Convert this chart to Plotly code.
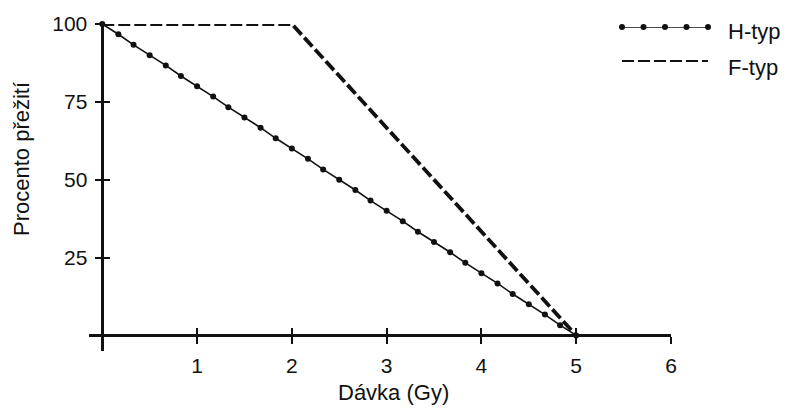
import plotly.graph_objects as go

# ---- data ----
h_x = [0, 0.17, 0.33, 0.5, 0.67, 0.83, 1, 1.17, 1.33, 1.5, 1.67, 1.83, 2, 2.17, 2.33, 2.5,
       2.67, 2.83, 3, 3.17, 3.33, 3.5, 3.67, 3.83, 4, 4.17, 4.33, 4.5, 4.67, 4.83, 5]
h_y = [100, 96.7, 93.3, 90, 86.7, 83.3, 80, 76.7, 73.3, 70, 66.7, 63.3, 60, 56.7, 53.3, 50,
       46.7, 43.3, 40, 36.7, 33.3, 30, 26.7, 23.3, 20, 16.7, 13.3, 10, 6.7, 3.3, 0]
f_x = [0, 2, 5]
f_y = [100, 100, 0]

x_ticks = [1, 2, 3, 4, 5, 6]
y_ticks = [25, 50, 75, 100]
series_names = ["H-typ", "F-typ"]
x_title = "Dávka (Gy)"
y_title = "Procento přežití"

# legend sample positions (in legend-axis units)
leg_h_x = [0, 0.25, 0.5, 0.75, 1]
leg_h_y = [1, 1, 1, 1, 1]
leg_f_x = [0, 1]
leg_f_y = [0, 0]

# ---- layout constants ----
W, H = 790, 409
ML, MR, MT, MB = 89, 0, 24, 58
x_range = [-0.14, 6.0]
y_range = [-5, 100]
plot_w = W - ML - MR
plot_h = H - MT - MB
x_dom_end = (671 - ML) / plot_w

def px_to_paper_x(px):
    return (px - ML) / plot_w

def py_to_paper_y(py):
    return (H - MB - py) / plot_h

x_axis_pos = (0 - y_range[0]) / (y_range[1] - y_range[0])
y_axis_pos = (0 - x_range[0]) / (x_range[1] - x_range[0]) * x_dom_end

INK = "#111111"
FONT = "Liberation Sans, Arial, sans-serif"
FS = 21

fig = go.Figure()

fig.add_trace(go.Scatter(
    x=h_x, y=h_y, mode="lines+markers", name=series_names[0],
    line=dict(color=INK, width=1.6),
    marker=dict(color=INK, size=6),
    cliponaxis=False, showlegend=False))
fig.add_trace(go.Scatter(
    x=f_x, y=f_y, mode="lines", name=series_names[1],
    line=dict(color=INK, width=3.8, dash="12px,4px"),
    cliponaxis=False, showlegend=False))

# empty trace to realise overlay tick axes
fig.add_trace(go.Scatter(x=[None], y=[None], xaxis="x2", yaxis="y2",
                         showlegend=False, hoverinfo="skip"))

# legend samples
fig.add_trace(go.Scatter(x=leg_h_x, y=leg_h_y, xaxis="x3", yaxis="y3",
                         mode="lines+markers", line=dict(color=INK, width=1.6),
                         marker=dict(color=INK, size=6), cliponaxis=False,
                         showlegend=False, hoverinfo="skip"))
fig.add_trace(go.Scatter(x=leg_f_x, y=leg_f_y, xaxis="x3", yaxis="y3",
                         mode="lines", line=dict(color=INK, width=3.8, dash="12px,4px"),
                         cliponaxis=False, showlegend=False, hoverinfo="skip"))

common = dict(showgrid=False, zeroline=False, tickcolor=INK, tickwidth=2,
              ticklen=7, fixedrange=True, automargin=False)

fig.update_layout(
    template="none",
    width=W, height=H,
    margin=dict(l=ML, r=MR, t=MT, b=MB, pad=0),
    paper_bgcolor="white", plot_bgcolor="white",
    font=dict(family=FONT, size=FS, color=INK),
    showlegend=False,
    xaxis=dict(range=x_range, domain=[0, x_dom_end], anchor="free", position=x_axis_pos,
               showline=True, linecolor=INK, linewidth=2.5,
               ticks="outside", tickvals=x_ticks, ticktext=[str(v) for v in x_ticks],
               ticklabelstandoff=4, tickfont=dict(size=FS), **common),
    yaxis=dict(range=y_range, domain=[0, 1], anchor="free", position=y_axis_pos,
               showline=True, linecolor=INK, linewidth=2.5,
               ticks="outside", tickvals=y_ticks, ticktext=[str(v) for v in y_ticks],
               ticklabelstandoff=3, tickfont=dict(size=FS), **common),
    xaxis2=dict(range=x_range, domain=[0, x_dom_end], overlaying="x", anchor="free",
                position=x_axis_pos, showline=False, ticks="inside", tickvals=x_ticks,
                showticklabels=False, **common),
    yaxis2=dict(range=y_range, domain=[0, 1], overlaying="y", anchor="free",
                position=y_axis_pos, showline=False, ticks="inside", tickvals=y_ticks,
                showticklabels=False, **common),
    xaxis3=dict(range=[0, 1], domain=[px_to_paper_x(622), px_to_paper_x(708)], anchor="y3",
                visible=False, fixedrange=True),
    yaxis3=dict(range=[0, 1], domain=[py_to_paper_y(62), py_to_paper_y(27)], anchor="x3",
                visible=False, fixedrange=True),
)

annotations = [
    dict(text=x_title, xref="paper", yref="paper", x=px_to_paper_x(393), y=py_to_paper_y(392),
         xanchor="center", yanchor="middle", showarrow=False, font=dict(size=22)),
    dict(text=y_title, xref="paper", yref="paper", x=px_to_paper_x(21), y=py_to_paper_y(159),
         xanchor="center", yanchor="middle", showarrow=False, textangle=-90,
         font=dict(size=22)),
    dict(text=series_names[0], xref="paper", yref="paper", x=px_to_paper_x(726),
         y=py_to_paper_y(31), xanchor="left", yanchor="middle", showarrow=False,
         font=dict(size=22)),
    dict(text=series_names[1], xref="paper", yref="paper", x=px_to_paper_x(726),
         y=py_to_paper_y(67), xanchor="left", yanchor="middle", showarrow=False,
         font=dict(size=22)),
]
fig.update_layout(annotations=annotations)

fig.write_html("out.html")
